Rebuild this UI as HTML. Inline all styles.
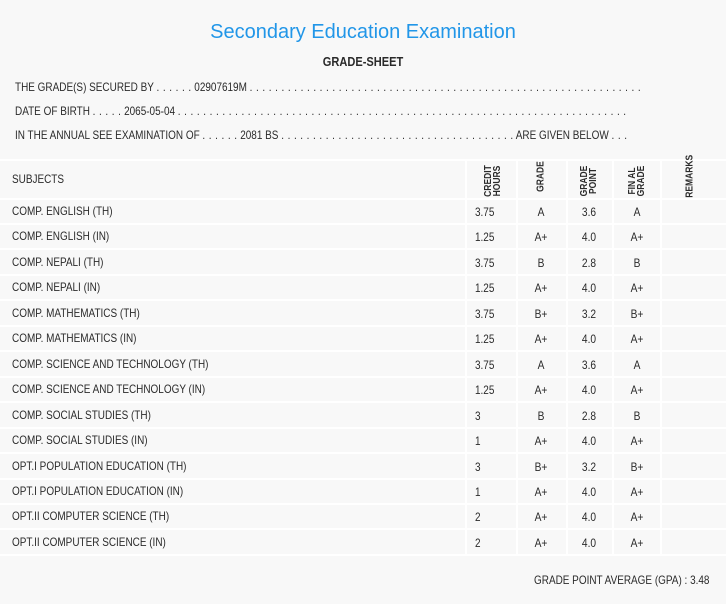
<!DOCTYPE html>
<html><head><meta charset="utf-8"><style>
body{margin:0;width:726px;height:604px;background:#f8f8f8;font-family:"Liberation Sans",sans-serif;color:#2a2a2a;position:relative;overflow:hidden}
.a{position:absolute;white-space:nowrap}
.t{font-size:12px;transform-origin:left center;transform:scaleX(0.83)}
.d{letter-spacing:0.5px}
.c{position:absolute;width:50px;text-align:center;font-size:12px;transform:scaleX(0.85)}
.hl{position:absolute;left:0;width:726px;height:2px;background:#fff}
.vl{position:absolute;top:160px;height:396px;width:2px;background:#fff}
.rh{position:absolute;font-size:10px;font-weight:bold;transform:rotate(-90deg) scaleX(0.85);transform-origin:center;text-align:center;line-height:9px;width:50px}
</style></head><body>
<div class="a" style="left:0;width:726px;text-align:center;top:21px;font-size:20px;color:#2196e8;font-weight:normal">Secondary Education Examination</div>
<div class="a" style="left:0;width:726px;text-align:center;top:54px;font-size:13px;transform:scaleX(0.85)"><b>GRADE-SHEET</b></div>
<div class="a t" style="left:15px;top:80px">THE GRADE(S) SECURED BY <span class="d">. . . . . .</span> 02907619M <span class="d">. . . . . . . . . . . . . . . . . . . . . . . . . . . . . . . . . . . . . . . . . . . . . . . . . . . . . . . . . . . . . .</span></div>
<div class="a t" style="left:15px;top:104px">DATE OF BIRTH <span class="d">. . . . .</span> 2065-05-04 <span class="d">. . . . . . . . . . . . . . . . . . . . . . . . . . . . . . . . . . . . . . . . . . . . . . . . . . . . . . . . . . . . . . . . . . . . . . .</span></div>
<div class="a t" style="left:15px;top:128px">IN THE ANNUAL SEE EXAMINATION OF <span class="d">. . . . . .</span> 2081 BS <span class="d">. . . . . . . . . . . . . . . . . . . . . . . . . . . . . . . . . . . . .</span> ARE GIVEN BELOW <span class="d">. . .</span></div>
<div class="hl" style="top:159px"></div>
<div class="hl" style="top:198px"></div>
<div class="vl" style="left:465px"></div><div class="vl" style="left:516px"></div><div class="vl" style="left:566px"></div><div class="vl" style="left:612px"></div><div class="vl" style="left:660px"></div>
<div class="a t" style="left:12px;top:172px">SUBJECTS</div>
<div class="rh" style="left:468px;top:172px">CREDIT<br>HOURS</div>
<div class="rh" style="left:516px;top:172px">GRADE</div>
<div class="rh" style="left:564px;top:172px">GRADE<br>POINT</div>
<div class="rh" style="left:612px;top:172px">FIN AL<br>GRADE</div>
<div class="rh" style="left:665px;top:172px">REMARKS</div>
<div id="rows"></div>
<script>
var d=[["COMP. ENGLISH (TH)","3.75","A","3.6","A"],["COMP. ENGLISH (IN)","1.25","A+","4.0","A+"],["COMP. NEPALI (TH)","3.75","B","2.8","B"],["COMP. NEPALI (IN)","1.25","A+","4.0","A+"],["COMP. MATHEMATICS (TH)","3.75","B+","3.2","B+"],["COMP. MATHEMATICS (IN)","1.25","A+","4.0","A+"],["COMP. SCIENCE AND TECHNOLOGY (TH)","3.75","A","3.6","A"],["COMP. SCIENCE AND TECHNOLOGY (IN)","1.25","A+","4.0","A+"],["COMP. SOCIAL STUDIES (TH)","3","B","2.8","B"],["COMP. SOCIAL STUDIES (IN)","1","A+","4.0","A+"],["OPT.I POPULATION EDUCATION (TH)","3","B+","3.2","B+"],["OPT.I POPULATION EDUCATION (IN)","1","A+","4.0","A+"],["OPT.II COMPUTER SCIENCE (TH)","2","A+","4.0","A+"],["OPT.II COMPUTER SCIENCE (IN)","2","A+","4.0","A+"]];
var h="";d.forEach(function(r,i){var y=204+i*25.45;
h+='<div class="a t" style="left:12px;top:'+y+'px">'+r[0]+'</div>';
h+='<div class="a t" style="left:475px;top:'+(y+1)+'px">'+r[1]+'</div>';
h+='<div class="c" style="left:516px;top:'+(y+1)+'px">'+r[2]+'</div>';
h+='<div class="c" style="left:564px;top:'+(y+1)+'px">'+r[3]+'</div>';
h+='<div class="c" style="left:612px;top:'+(y+1)+'px">'+r[4]+'</div>';
h+='<div class="hl" style="top:'+(y+19)+'px"></div>';});
document.getElementById("rows").innerHTML=h;
</script>
<div class="a t" style="left:534px;top:573px">GRADE POINT AVERAGE (GPA) : 3.48</div>
</body></html>
